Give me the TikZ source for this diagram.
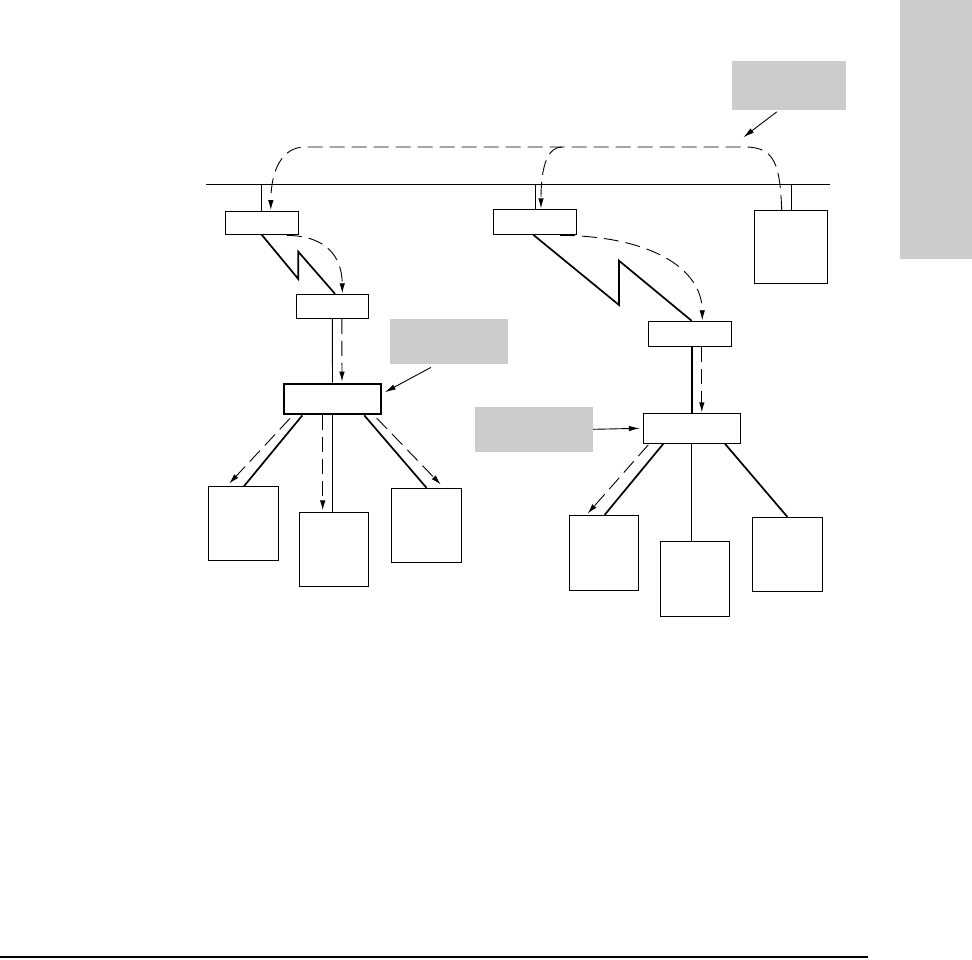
\documentclass[tikz,border=0pt]{standalone}
\usetikzlibrary{arrows.meta,calc}
\definecolor{paleg}{gray}{0.8}
\begin{document}
\begin{tikzpicture}[x=1pt,y=-1pt,
  box/.style={draw, line width=1pt, inner sep=0pt, fill=white},
  thickbox/.style={draw, line width=2.8pt, inner sep=0pt, fill=white},
  note/.style={fill=paleg, inner sep=0pt},
  wire/.style={line width=0.9pt},
  link/.style={line width=1.7pt},
  trunk/.style={line width=2.2pt},
  flow/.style={line width=0.9pt, dash pattern=on 15pt off 7pt, -{Latex[length=10pt,width=5.5pt]}},
  pointer/.style={line width=0.9pt, -{Latex[length=11pt,width=5.5pt]}},
]
\useasboundingbox (0,0) rectangle (972,959);
% side tab and footer rule
\fill[paleg] (900,0) rectangle (972,259);
\draw[line width=2pt] (0,957) -- (868,957);

% gray callouts
\node[note, minimum width=114pt, minimum height=49pt] (g1) at (789,85.5) {};
\node[note, minimum width=117.7pt, minimum height=44.7pt] (g2) at (448.8,341.3) {};
\node[note, minimum width=118pt, minimum height=44.7pt] (g3) at (534,429.3) {};

% bus
\coordinate (busL) at (206,184);
\coordinate (busR) at (830,184);
\draw[wire] (busL) -- (busR);

% boxes
\node[box, minimum width=73pt, minimum height=23.3pt] (r1) at (261.8,222.7) {};
\node[box, minimum width=83.4pt, minimum height=25pt] (r2) at (535,221.8) {};
\node[box, minimum width=73.4pt, minimum height=73pt] (s) at (791,246.8) {};
\node[box, minimum width=72pt, minimum height=24pt] (r3) at (332.3,306.3) {};
\node[box, minimum width=83pt, minimum height=25pt] (r4) at (689.8,333.8) {};
\node[thickbox, minimum width=97pt, minimum height=30pt] (sw1) at (332.5,399) {};
\node[box, minimum width=97pt, minimum height=30pt] (sw2) at (691.8,428.3) {};
\node[box, minimum width=70pt, minimum height=73.6pt] (l1) at (243.3,523.5) {};
\node[box, minimum width=69pt, minimum height=74pt] (l2) at (333.8,549.3) {};
\node[box, minimum width=70.4pt, minimum height=74pt] (l3) at (426.5,525.3) {};
\node[box, minimum width=69pt, minimum height=75pt] (rl1) at (603.8,552.8) {};
\node[box, minimum width=69pt, minimum height=75pt] (rl2) at (694.8,578.8) {};
\node[box, minimum width=70pt, minimum height=74pt] (rl3) at (787.3,554.3) {};

% drops from bus
\draw[wire] (r1.north) -- (r1.north |- busL);
\draw[wire] (r2.north) -- (r2.north |- busL);
\draw[wire] (s.north) -- (s.north |- busL);

% zigzag links
\coordinate (z1a) at (298.3,279);
\coordinate (z1b) at (298.3,251.7);
\draw[link, line join=miter] (r1.south) -- (z1a) -- (z1b) -- ($(r3.north)+(2.7,0)$);
\coordinate (z2a) at (619,305);
\coordinate (z2b) at (619,260.7);
\draw[link, line join=miter] ($(r2.south)+(-1.7,0)$) -- (z2a) -- (z2b) -- ($(r4.north)+(1.9,0)$);

% router to switch links
\draw[wire] (r3.south) -- (sw1.north);
\draw[trunk] (r4.south -| sw2.north) -- (sw2.north);

% switch to leaves
\draw[link] ($(sw1.south)+(-30.2,0)$) -- ($(l1.north)+(0.7,0)$);
\draw[wire] (sw1.south) -- (sw1.south |- l2.north);
\draw[link] ($(sw1.south)+(31.8,0)$) -- (l3.north);
\draw[link] ($(sw2.south)+(-28.5,0)$) -- ($(rl1.north)+(0.9,0)$);
\draw[wire] (sw2.south) -- (sw2.south |- rl2.north);
\draw[link] ($(sw2.south)+(33.2,0)$) -- (rl3.north);

% dashed flow paths
\coordinate (src) at ($(s.north)+(-9.3,0)$);
\draw[flow] (src) .. controls (780,165) and (775,147) .. (745,147) -- (305,147)
  .. controls (282,147) and (271,170) .. ($(r1.north)+(9,-0.5)$);
\draw[flow] (562,147) .. controls (548,147) and (541,165) .. ($(r2.north)+(6,-0.5)$);
\draw[flow] ($(r1.south)+(25,0.5)$) .. controls (328,236) and (342,258) .. ($(r3.north)+(10,-0.5)$);
\draw[flow] ($(r2.south)+(25,0.5)$) .. controls (650,236) and (702,268) .. ($(r4.north)+(12.5,-0.5)$);
\draw[flow] ($(r3.south)+(9.5,0)$) -- ($(sw1.north)+(9.5,-1)$);
\draw[flow] ($(r4.south)+(12,0)$) -- ($(sw2.north)+(10,-0.5)$);
\draw[flow] ($(sw1.south)+(-42.5,3)$) -- ($(l1.north)+(-14,-2.7)$);
\draw[flow] ($(sw1.south)+(-9.8,0)$) -- ($(sw1.south |- l2.north)+(-9.8,-1.5)$);
\draw[flow] ($(sw1.south)+(44.2,2.7)$) -- ($(l3.north)+(14.2,-3.3)$);
\draw[flow] ($(sw2.south)+(-43.5,1)$) -- ($(rl1.north)+(-16.1,-1.3)$);

% callout pointers
\coordinate (p1) at (743.3,137.3);
\draw[pointer] ($(g1.south)+(-12.3,1.7)$) -- (p1);
\draw[pointer] ($(g2.south)+(-18,3.6)$) -- ($(sw1.east)+(2.3,-6.7)$);
\draw[pointer] (g3.east) -- ($(sw2.west)+(-3,0)$);
\end{tikzpicture}
\end{document}
